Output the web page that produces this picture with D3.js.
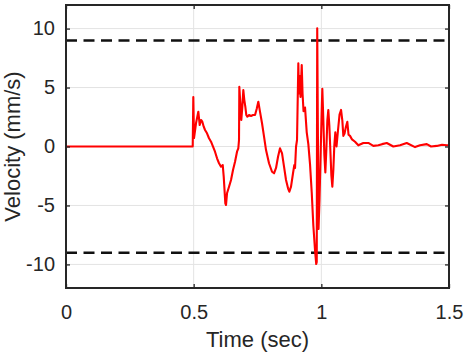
<!DOCTYPE html>
<html>
<head>
<meta charset="utf-8">
<script src="https://cdn.jsdelivr.net/npm/d3@7"></script>
<style>
  html, body { margin: 0; padding: 0; background: #ffffff; }
  svg { display: block; }
  text { font-family: "Liberation Sans", Arial, sans-serif; fill: #262626; }
</style>
</head>
<body>
<svg id="chart" width="466" height="357"></svg>
<script>
// ---- data ----
const time = [
  0, 0.4963, 0.4986, 0.5014, 0.5092, 0.5182, 0.5237, 0.5288, 0.5339, 0.5394,
  0.5445, 0.5523, 0.5601, 0.5680, 0.5758, 0.5836, 0.5915, 0.5993, 0.6071, 0.6138,
  0.6177, 0.6240, 0.6267, 0.6306, 0.6385, 0.6463, 0.6541, 0.6620, 0.6698, 0.6749,
  0.6776, 0.6788, 0.6827, 0.6866, 0.6906, 0.6945, 0.6984, 0.7023, 0.7062, 0.7102,
  0.7168, 0.7246, 0.7325, 0.7403, 0.7470, 0.7532, 0.7599, 0.7677, 0.7756, 0.7834,
  0.7951, 0.8069, 0.8147, 0.8226, 0.8304, 0.8382, 0.8461, 0.8539, 0.8617, 0.8696,
  0.8747, 0.8813, 0.8891, 0.8942, 0.8970, 0.9009, 0.9048, 0.9099, 0.9123, 0.9146,
  0.9185, 0.9232, 0.9264, 0.9303, 0.9362, 0.9428, 0.9491, 0.9557, 0.9624, 0.9687,
  0.9753, 0.9800, 0.9820, 0.9839, 0.9863, 0.9890, 0.9929, 0.9969, 1.0008, 1.0039,
  1.0078, 1.0118, 1.0157, 1.0196, 1.0235, 1.0274, 1.0313, 1.0353, 1.0392, 1.0431,
  1.0470, 1.0509, 1.0548, 1.0595, 1.0654, 1.0713, 1.0772, 1.0823, 1.0862, 1.0909,
  1.0956, 1.1018, 1.1065, 1.1124, 1.1202, 1.1320, 1.1449, 1.1645, 1.1841, 1.2037,
  1.2233, 1.2378, 1.2562, 1.2820, 1.3083, 1.3345, 1.3670, 1.3866, 1.4129, 1.4297,
  1.4520, 1.4728, 1.4912, 1.5
];
const velocity = [
  0, 0, 4.20, 0.72, 1.97, 2.95, 1.82, 2.25, 2.10, 1.68,
  1.40, 1.12, 0.70, 0.41, -0.02, -0.44, -1.00, -1.42, -1.71, -1.57,
  -2.56, -4.82, -4.96, -3.97, -3.41, -2.84, -1.99, -1.29, -0.44, -0.15,
  0.55, 5.07, 3.69, 2.25, 3.38, 4.79, 3.94, 3.38, 2.67, 2.53,
  2.67, 2.59, 2.67, 2.67, 3.20, 3.80, 2.93, 1.97, 0.83, -0.30,
  -1.42, -2.14, -2.27, -1.82, -0.87, -0.15, -0.58, -1.71, -2.84, -3.55,
  -3.83, -3.41, -2.27, -1.57, -1.82, -0.02, 0.55, 7.06, 4.50, 6.00,
  4.20, 6.91, 4.50, 3.00, 3.30, 1.20, 0.20, -1.50, -3.90, -6.70,
  -8.80, -9.97, -9.80, 10.03, 2.00, -7.00, -4.50, -1.00, 2.50, 4.90,
  2.30, -0.70, -2.20, -0.30, 2.20, 3.10, 1.80, -0.30, -2.40, -3.40,
  -2.00, 0.10, 1.20, 0.00, 1.40, 2.70, 3.10, 2.20, 0.90, 1.10,
  1.60, 2.10, 1.00, 0.90, 0.60, 0.40, 0.10, 0.30, 0.30, 0.05,
  0.10, 0.20, 0.30, 0.00, 0.10, 0.30, -0.05, 0.10, 0.20, 0.00,
  0.05, 0.15, 0.10, 0.10
];
const xDomain = [0, 1.5];
const yDomain = [-12, 12];
const xTicks = [0, 0.5, 1, 1.5];
const xTickLabels = ["0", "0.5", "1", "1.5"];
const yTicks = [-10, -5, 0, 5, 10];
const yTickLabels = ["-10", "-5", "0", "5", "10"];
const thresholds = [9, -9];
const xLabel = "Time (sec)";
const yLabel = "Velocity (mm/s)";

// ---- layout ----
const L = 66, R = 449, T = 5, B = 288;
const svg = d3.select("#chart");
const x = d3.scaleLinear().domain(xDomain).range([L, R]);
const y = d3.scaleLinear().domain(yDomain).range([B, T]);

// grid
const grid = svg.append("g").attr("stroke", "#e3e3e3").attr("stroke-width", 1);
grid.selectAll(".gx").data(xTicks.slice(1, -1)).join("line")
  .attr("x1", d => x(d)).attr("x2", d => x(d)).attr("y1", T).attr("y2", B);
grid.selectAll(".gy").data(yTicks).join("line")
  .attr("x1", L).attr("x2", R).attr("y1", d => y(d)).attr("y2", d => y(d));

// threshold dashed lines
svg.append("g").selectAll("line").data(thresholds).join("line")
  .attr("x1", x(xDomain[0])).attr("x2", x(xDomain[1]))
  .attr("y1", d => y(d)).attr("y2", d => y(d))
  .attr("stroke", "#111").attr("stroke-width", 2.5)
  .attr("stroke-dasharray", "11,6.5");

// signal
const pts = time.map((t, i) => [t, velocity[i]]);
svg.append("path").datum(pts)
  .attr("fill", "none").attr("stroke", "#ff0000").attr("stroke-width", 2.1)
  .attr("stroke-linejoin", "round")
  .attr("d", d3.line().x(d => x(d[0])).y(d => y(d[1])));

// axes (inward ticks, box)
const tickLen = 4;
const ax = svg.append("g");
ax.append("g").attr("transform", `translate(0,${B})`)
  .call(d3.axisBottom(x).tickValues(xTicks).tickFormat((d, i) => xTickLabels[i]).tickSizeInner(-tickLen).tickSizeOuter(0).tickPadding(17));
ax.append("g").attr("transform", `translate(0,${T})`)
  .call(d3.axisTop(x).tickValues(xTicks).tickFormat("").tickSizeInner(-tickLen).tickSizeOuter(0));
ax.append("g").attr("transform", `translate(${L},0)`)
  .call(d3.axisLeft(y).tickValues(yTicks).tickFormat((d, i) => yTickLabels[i]).tickSizeInner(-tickLen).tickSizeOuter(0).tickPadding(11));
ax.append("g").attr("transform", `translate(${R},0)`)
  .call(d3.axisRight(y).tickValues(yTicks).tickFormat("").tickSizeInner(-tickLen).tickSizeOuter(0));
ax.selectAll(".domain").remove();
ax.selectAll(".tick line").attr("stroke", "#262626").attr("stroke-width", 1.3);
ax.selectAll(".tick text").attr("font-size", 20).attr("fill", "#262626")
  .attr("font-family", "Liberation Sans, Arial, sans-serif");

svg.append("rect").attr("x", L).attr("y", T).attr("width", R - L).attr("height", B - T)
  .attr("fill", "none").attr("stroke", "#262626").attr("stroke-width", 2);

// axis titles
svg.append("text").attr("x", (L + R) / 2).attr("y", 347)
  .attr("text-anchor", "middle").attr("font-size", 22).text(xLabel);
svg.append("text").attr("transform", `translate(20,${(T + B) / 2}) rotate(-90)`)
  .attr("text-anchor", "middle").attr("font-size", 22).text(yLabel);
</script>
</body>
</html>
